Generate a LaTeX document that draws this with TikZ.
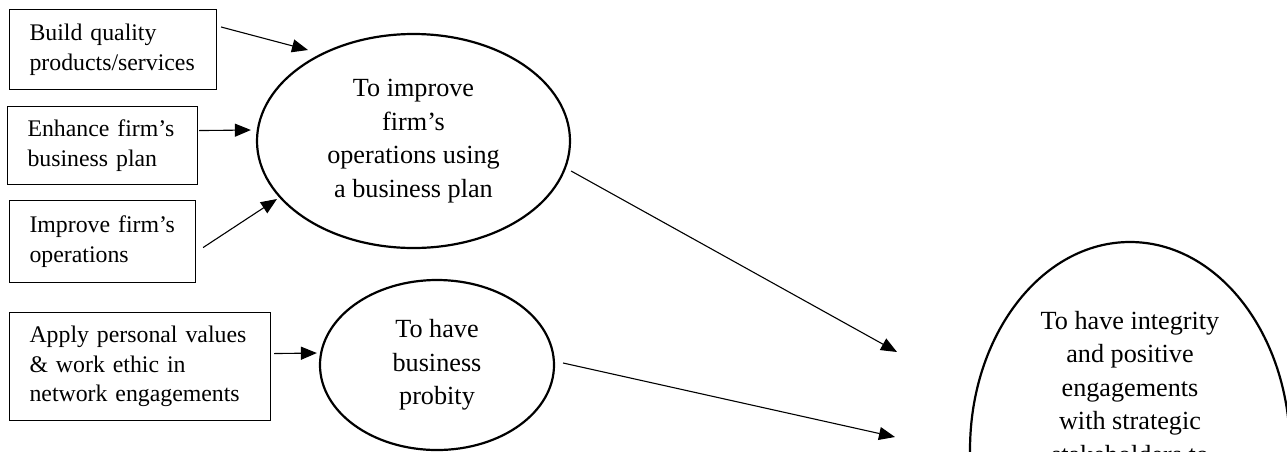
\documentclass[tikz,border=0pt]{standalone}
\usepackage{fontspec}
\setmainfont{Liberation Serif}
\usetikzlibrary{shapes.geometric,arrows.meta,calc}

\tikzset{
  inbox/.style={draw, line width=1.1pt, rectangle, anchor=north west,
    inner xsep=20pt, inner ysep=0pt, align=left,
    font=\fontsize{23.8}{29.5}\selectfont},
  goal/.style={draw, line width=2.2pt, ellipse, inner sep=0pt, align=center,
    font=\fontsize{26.2}{33.5}\selectfont},
  link/.style={line width=1.1pt, -{Triangle[length=16pt,width=13pt]}},
}

\begin{document}
\begin{tikzpicture}[x=1pt,y=-1pt]
  \useasboundingbox (0,0) rectangle (1287,451);
  \clip (0,0) rectangle (1287,451);

  % input activities
  \node[inbox, minimum width=207pt, minimum height=80pt, text width=167pt]
    (b1) at (9,9) {Build quality\\products/services};
  \node[inbox, minimum width=190pt, minimum height=78pt, text width=150pt]
    (b2) at (7,106) {Enhance firm’s\\business plan};
  \node[inbox, minimum width=186pt, minimum height=82pt, text width=146pt]
    (b3) at (9,200) {Improve firm’s\\operations};
  \node[inbox, minimum width=261pt, minimum height=108pt, text width=221pt]
    (b4) at (9,312) {Apply personal values\\\& work ethic in\\network engagements};

  % intermediate goals
  \node[goal, minimum width=313pt, minimum height=214pt] (e1) at (413.5,141)
    {To improve\\firm’s\\operations using\\a business plan};
  \node[goal, minimum width=234pt, minimum height=170pt] (e2) at (437,365)
    {To have\\business\\probity};

  % overall goal
  \node[goal, minimum width=320pt, minimum height=416pt] (e3) at (1130,450) {};
  \node[align=center, anchor=north, inner sep=0pt,
        font=\fontsize{26.2}{33.5}\selectfont] (e3text) at (1130,311)
    {To have integrity\\and positive\\engagements\\with strategic\\stakeholders to};

  \coordinate (t1) at ($(e3.center)+(-233,-98)$);
  \coordinate (t2) at ($(e3.center)+(-235,-13)$);

  % connectors
  \draw[link] ($(b1.north east)+(4,18)$) -- ($(e1.center)+(-105.5,-91)$);
  \draw[link] ($(b2.east)+(1,-15)$) -- ($(e1.west)+(-5,-11)$);
  \draw[link] ($(b3.east)+(7,6)$) -- ($(e1.center)+(-136.5,58)$);
  \draw[link] ($(b4.east)+(3,-13)$) -- ($(e2.west)+(-2,-12)$);
  \draw[link] ($(e1.east)+(0,30)$) -- (t1);
  \draw[link] ($(e2.east)+(8,-2)$) -- (t2);
\end{tikzpicture}
\end{document}
